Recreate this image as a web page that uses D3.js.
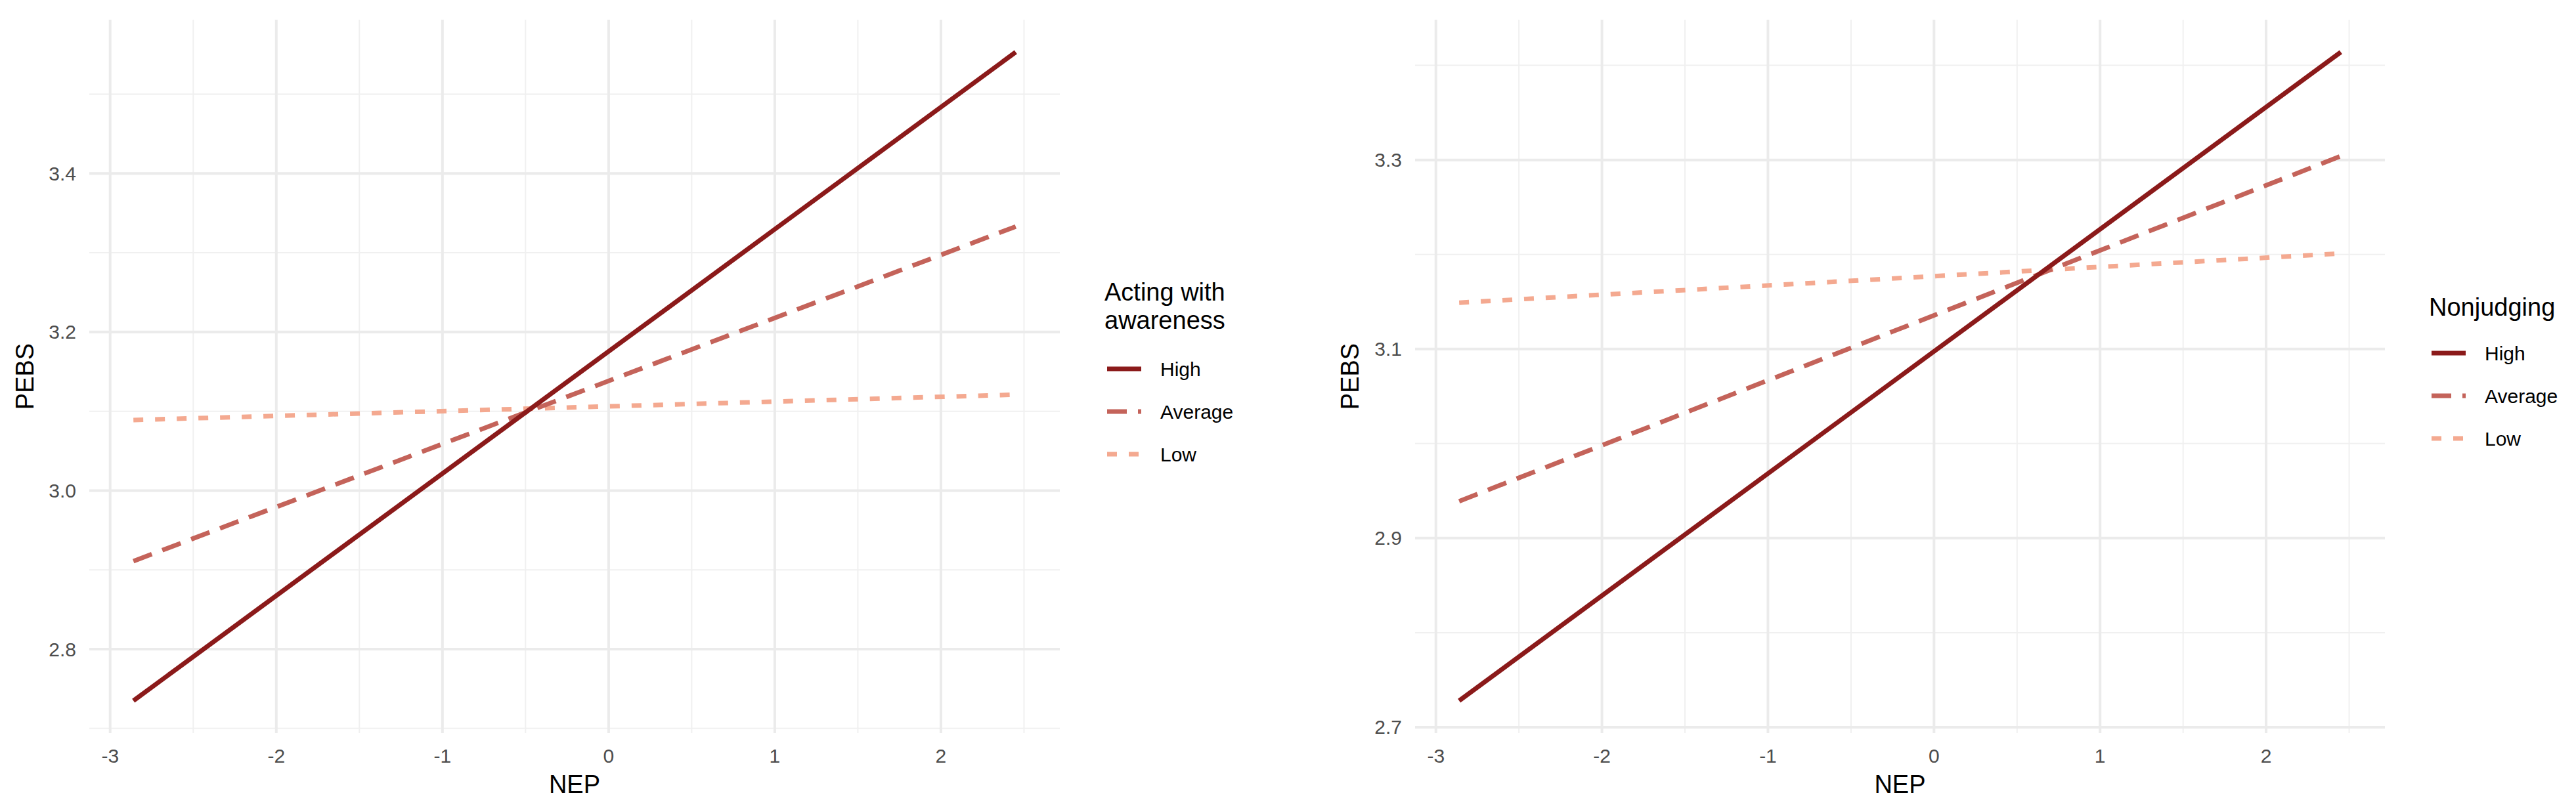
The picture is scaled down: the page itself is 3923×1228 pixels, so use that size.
<!DOCTYPE html>
<html>
<head>
<meta charset="utf-8">
<script src="https://cdn.jsdelivr.net/npm/d3@7"></script>
<style>
  body { margin: 0; background: #fff; }
  text { font-family: "Liberation Sans", Arial, sans-serif; }
</style>
</head>
<body>
<script>
// data
var levels = ["High", "Average", "Low"];
var nepRange = [-2.86, 2.45];
var awarenessStart = [2.735, 2.911, 3.089];
var awarenessEnd = [3.553, 3.333, 3.121];
var nonjudgingStart = [2.728, 2.939, 3.149];
var nonjudgingEnd = [3.414, 3.304, 3.201];
var xTicks = [-3, -2, -1, 0, 1, 2];
var xMinor = [-2.5, -1.5, -0.5, 0.5, 1.5, 2.5];
var leftYTicks = [2.8, 3.0, 3.2, 3.4];
var leftYMinor = [2.7, 2.9, 3.1, 3.3, 3.5];
var rightYTicks = [2.7, 2.9, 3.1, 3.3];
var rightYMinor = [2.8, 3.0, 3.2, 3.4];

var colors = ["#8b1a1a", "#c4635a", "#f4a990"];
var dashes = [null, "30,17", "15,18"];

var svg = d3.select("body").append("svg")
    .attr("width", 3923)
    .attr("height", 1228);

var drawPanel = function(opt)
{
    var top = 30, bottom = 1117;
    var series = levels.map(function(l, i){
        return {level:l, pts:[[nepRange[0], opt.start[i]], [nepRange[1], opt.end[i]]]};
    });

    var xr = nepRange[1] - nepRange[0];
    var x = d3.scaleLinear()
        .domain([nepRange[0] - xr*0.05, nepRange[1] + xr*0.05])
        .range([opt.left, opt.right]);

    var allY = opt.start.concat(opt.end);
    var ext = d3.extent(allY);
    var yr = ext[1] - ext[0];
    var y = d3.scaleLinear()
        .domain([ext[0] - yr*0.05, ext[1] + yr*0.05])
        .range([bottom, top]);

    var g = svg.append("g");

    // minor grid
    g.selectAll(".xminor").data(xMinor.filter(function(d){ return x(d) <= opt.right; }))
        .enter().append("line")
        .attr("x1", x).attr("x2", x).attr("y1", top).attr("y2", bottom)
        .attr("stroke", "#f0f0f0").attr("stroke-width", 2);
    g.selectAll(".yminor").data(opt.yMinor.filter(function(d){ return y(d) >= top && y(d) <= bottom + 3; }))
        .enter().append("line")
        .attr("y1", y).attr("y2", y).attr("x1", opt.left).attr("x2", opt.right)
        .attr("stroke", "#f0f0f0").attr("stroke-width", 2);

    // major grid
    g.selectAll(".xmajor").data(xTicks)
        .enter().append("line")
        .attr("x1", x).attr("x2", x).attr("y1", top).attr("y2", bottom)
        .attr("stroke", "#ebebeb").attr("stroke-width", 4);
    g.selectAll(".ymajor").data(opt.yTicks.filter(function(d){ return y(d) <= bottom + 3; }))
        .enter().append("line")
        .attr("y1", y).attr("y2", y).attr("x1", opt.left).attr("x2", opt.right)
        .attr("stroke", "#ebebeb").attr("stroke-width", 4);

    // tick labels
    g.selectAll(".xlab").data(xTicks)
        .enter().append("text")
        .attr("x", x).attr("y", 1162)
        .attr("text-anchor", "middle")
        .attr("font-size", 30).attr("fill", "#4d4d4d")
        .text(function(d){ return d; });
    g.selectAll(".ylab").data(opt.yTicks)
        .enter().append("text")
        .attr("x", opt.left - 20).attr("y", y)
        .attr("dy", "0.35em")
        .attr("text-anchor", "end")
        .attr("font-size", 30).attr("fill", "#4d4d4d")
        .text(d3.format(".1f"));

    // axis titles
    g.append("text")
        .attr("x", (opt.left + opt.right)/2).attr("y", 1208)
        .attr("text-anchor", "middle").attr("font-size", 38)
        .text("NEP");
    g.append("text")
        .attr("transform", "translate(" + opt.ytitleX + "," + (top + bottom)/2 + ") rotate(-90)")
        .attr("dy", "0.35em")
        .attr("text-anchor", "middle").attr("font-size", 38)
        .text("PEBS");

    // lines
    var line = d3.line()
        .x(function(d){ return x(d[0]); })
        .y(function(d){ return y(d[1]); });
    g.selectAll(".series").data(series.slice().reverse())
        .enter().append("path")
        .attr("d", function(d){ return line(d.pts); })
        .attr("fill", "none")
        .attr("stroke", function(d){ return colors[levels.indexOf(d.level)]; })
        .attr("stroke-width", 7)
        .attr("stroke-dasharray", function(d){ return dashes[levels.indexOf(d.level)]; });

    // legend
    var lg = g.append("g");
    opt.title.forEach(function(t, i){
        lg.append("text")
            .attr("x", opt.legX - 4).attr("y", opt.titleY + i*43)
            .attr("font-size", 38)
            .text(t);
    });
    var items = lg.selectAll(".item").data(levels)
        .enter().append("g")
        .attr("transform", function(d, i){ return "translate(" + opt.legX + "," + (opt.keyY + i*65) + ")"; });
    items.append("line")
        .attr("x1", 0).attr("x2", 52)
        .attr("stroke", function(d, i){ return colors[i]; })
        .attr("stroke-width", 7)
        .attr("stroke-dasharray", function(d, i){ return dashes[i]; });
    items.append("text")
        .attr("x", 81).attr("dy", "0.35em")
        .attr("font-size", 30)
        .text(function(d){ return d; });
};

drawPanel({left:136, right:1614, yTicks:leftYTicks, yMinor:leftYMinor, ytitleX:38,
    start:awarenessStart, end:awarenessEnd,
    title:["Acting with", "awareness"], legX:1686, titleY:458, keyY:562});

drawPanel({left:2155, right:3632, yTicks:rightYTicks, yMinor:rightYMinor, ytitleX:2056,
    start:nonjudgingStart, end:nonjudgingEnd,
    title:["Nonjudging"], legX:3703, titleY:481, keyY:538});
</script>
</body>
</html>
